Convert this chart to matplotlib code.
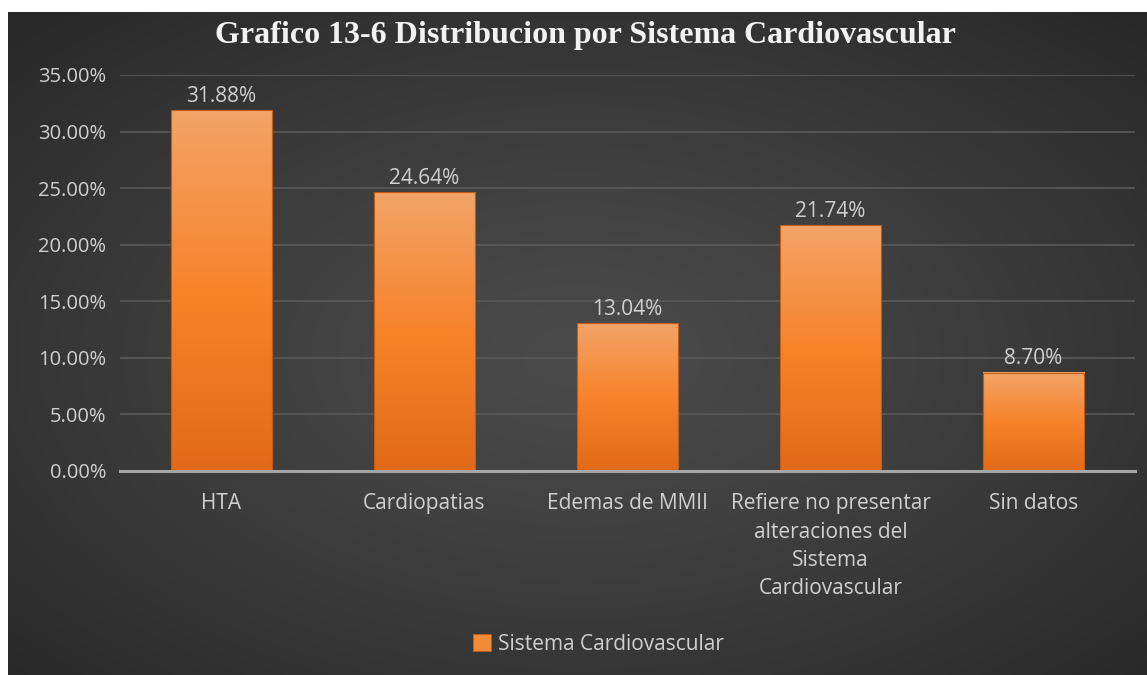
import matplotlib
matplotlib.use("Agg")
import matplotlib.pyplot as plt
import numpy as np
from matplotlib.colors import LinearSegmentedColormap
from matplotlib.patches import Rectangle

# ---- data ----
categories = ["HTA", "Cardiopatias", "Edemas de MMII",
              "Refiere no presentar\nalteraciones del\nSistema\nCardiovascular",
              "Sin datos"]
values = [31.88, 24.64, 13.04, 21.74, 8.70]
yticks = [0, 5, 10, 15, 20, 25, 30, 35]
series_name = "Sistema Cardiovascular"
title = "Grafico 13-6 Distribucion por Sistema Cardiovascular"

W, H = 1147, 675
fig = plt.figure(figsize=(W / 100, H / 100), dpi=100, facecolor="white")

# background panel with radial gradient
bg = fig.add_axes([8 / W, 0, 1 - 8 / W, 1 - 12 / H])
bg.axis("off")
ny, nx = 300, 500
yy, xx = np.mgrid[0:1:ny * 1j, 0:1:nx * 1j]
d = np.sqrt(((xx - 0.5) / 0.75) ** 2 + ((yy - 0.52) / 0.75) ** 2)
d = np.clip(d / 0.95, 0, 1)
g = (74 - (74 - 40) * d ** 1.3) / 255.0
img = np.dstack([g, g, g])
bg.imshow(img, extent=[0, 1, 0, 1], aspect="auto", origin="upper")
bg.set_xlim(0, 1)
bg.set_ylim(0, 1)

# main axes
ax = fig.add_axes([120 / W, 204 / H, 1015 / W, (471 - 75) / H])
ax.set_facecolor("none")

txt_color = "#d0d0d0"
font = "Open Sans"

bar_cmap = LinearSegmentedColormap.from_list(
    "bar", ["#e26a18", "#f7832b", "#f3a468"])
grad = np.linspace(0, 1, 256).reshape(-1, 1)

x = np.arange(len(categories))
width = 0.5
bars = ax.bar(x, values, width=width, color="none", edgecolor="#c25c14",
              linewidth=0.8, zorder=3)
for xi, v in zip(x, values):
    ax.imshow(grad, extent=[xi - width / 2, xi + width / 2, 0, v],
              origin="lower", aspect="auto", cmap=bar_cmap, zorder=2)
    ax.text(xi, v + 0.3, f"{v:.2f}%", ha="center", va="bottom",
            fontsize=15, color=txt_color, family=font, zorder=4)

ax.set_xlim(-0.5, len(categories) - 0.5)
ax.set_ylim(0, 35)
ax.set_yticks(yticks)
ax.set_yticklabels([f"{t:.2f}%" for t in yticks], family=font,
                   fontsize=14.5, color=txt_color)
ax.set_xticks(x)
ax.set_xticklabels(categories, family=font, fontsize=15, color=txt_color,
                   linespacing=1.46, va="top")
ax.tick_params(axis="both", length=0)
ax.tick_params(axis="y", pad=10)
ax.tick_params(axis="x", pad=16)
ax.yaxis.grid(True, color="#5a5a5a", linewidth=1.2, zorder=0)
ax.set_axisbelow(True)
for s in ["top", "right", "left"]:
    ax.spines[s].set_visible(False)
ax.spines["bottom"].set_color("#a6a6a6")
ax.spines["bottom"].set_linewidth(2.2)
ax.spines["bottom"].set_zorder(5)

# title
fig.text(585 / W, 1 - 36 / H, title, ha="center", va="center",
         fontsize=23, family="Liberation Serif", weight="bold",
         color="#f2f2f2")

# legend
handle = Rectangle((0, 0), 1, 1, facecolor="#f28a36", edgecolor="#c25c14",
                   linewidth=0.6)
leg = fig.legend([handle], [series_name], loc="center",
                 bbox_to_anchor=(598 / W, 1 - 644 / H), frameon=False,
                 prop={"family": font, "size": 15},
                 handlelength=0.9, handleheight=0.9, handletextpad=0.3)
for t in leg.get_texts():
    t.set_color(txt_color)

fig.savefig("out.png", dpi=100, facecolor="white")
